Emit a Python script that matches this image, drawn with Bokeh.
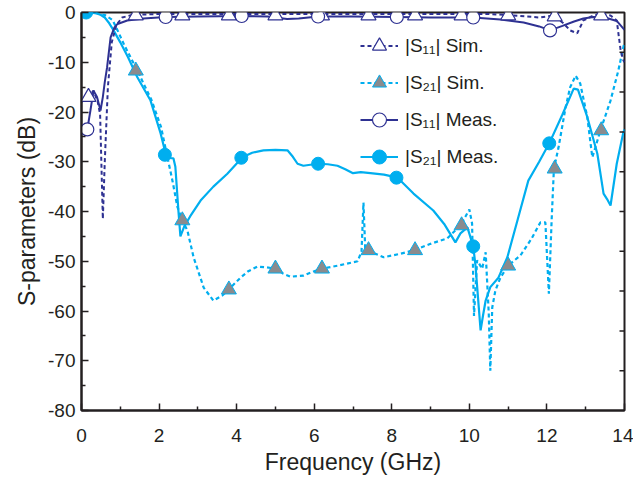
from bokeh.plotting import figure
from bokeh.models import Range1d, FixedTicker, Legend, LegendItem
from bokeh.embed import file_html
from bokeh.resources import INLINE

# ---------------- data ----------------
# |S21| measured (solid cyan)
f21_meas = [0, 0.2, 0.4, 0.5, 0.6, 0.7, 0.82, 1.0, 1.2, 1.44,
            1.78, 2.04, 2.17, 2.3, 2.37, 2.42, 2.5, 2.55, 2.65, 2.8,
            3.07, 3.4, 3.76, 4.15, 4.4, 4.69, 5.0, 5.31, 5.45, 5.57,
            5.72, 5.9, 6.11, 6.35, 6.6, 6.8, 7.0, 7.2, 7.45, 7.8,
            8.15, 8.56, 9.07, 9.35, 9.64, 9.77, 9.95, 10.1, 10.16, 10.22,
            10.29, 10.35, 10.42, 10.54, 10.75, 10.98, 11.25, 11.52, 11.8, 12.06,
            12.4, 12.69, 12.8, 13.04, 13.3, 13.46, 13.55, 13.64, 13.8, 13.97,
            14.0]
s21_meas = [0, 0, -0.2, -0.5, -1, -2, -3.5, -6, -9, -13,
            -17.7, -24.3, -28.4, -29.3, -29.3, -31, -40, -45, -43, -41,
            -37.8, -35, -32.4, -29.1, -28.2, -27.7, -27.6, -27.7, -29, -30.4,
            -30.8, -30.6, -30.4, -30.5, -30.8, -31.5, -32.3, -32.1, -32.3, -32.6,
            -33.2, -36.4, -39.8, -42.5, -46.2, -44.4, -43.2, -47, -51, -57,
            -63.9, -61, -57.9, -55.2, -53.3, -49.2, -41.5, -33.8, -30, -26.3,
            -20.5, -15.3, -15.5, -21, -28.4, -36.4, -37.5, -38.8, -30.4, -24.1,
            -23.5]

# |S21| simulated (dashed cyan)
f21_sim = [0, 0.3, 0.6, 0.8, 0.93, 1.1, 1.44, 1.8, 2.05, 2.2,
           2.35, 2.47, 2.6, 2.73, 2.89, 3.15, 3.4, 3.63, 3.79, 4.1,
           4.3, 4.53, 4.75, 5.0, 5.2, 5.39, 5.72, 6.0, 6.19, 6.6,
           7.12, 7.22, 7.27, 7.32, 7.37, 7.79, 8.22, 8.56, 9.0, 9.43,
           9.77, 9.9, 10.0, 10.07, 10.12, 10.2, 10.33, 10.42, 10.5, 10.54,
           10.59, 10.67, 10.8, 11.0, 11.32, 11.6, 11.83, 11.96, 12.05, 12.12,
           12.18, 12.3, 12.48, 12.6, 12.74, 12.86, 13.04, 13.17, 13.25, 13.38,
           13.64, 13.84, 13.97, 14.0]
s21_sim = [0, 0, -0.5, -1.5, -3.6, -6.5, -11.7, -17.5, -23, -28.5,
           -34, -39, -41.8, -43.8, -49.2, -55.3, -57.9, -56.9, -55.7, -53.3,
           -52, -51.1, -51.2, -51.5, -52.5, -53.1, -52.9, -52, -51.5, -50.9,
           -50.0, -48, -38.2, -48.5, -47.8, -49.2, -48.5, -47.8, -46.5, -45.4,
           -42.8, -41, -39.6, -42.4, -61, -49.8, -51.5, -48.2, -60.5, -72,
           -59.3, -55.9, -53.3, -50.9, -48.8, -45.5, -42.2, -42.2, -56.5, -42,
           -31.4, -27.1, -19.1, -15, -12.7, -14.3, -21, -29.1, -27.1, -23.7,
           -17.7, -11.7, -7, -6]

# |S11| simulated (dashed navy)
f11_sim = [0, 0.18, 0.31, 0.42, 0.48, 0.55, 0.6, 0.68, 0.78, 0.9,
           1.05, 1.3, 2, 3, 4, 5, 6, 7, 8, 9,
           10, 10.5, 11, 11.5, 11.8, 12.17, 12.43, 12.6, 12.78, 12.94,
           13.2, 13.38, 13.64, 13.8, 13.9, 13.97, 14.0]
s11_sim = [-18, -17, -15.7, -18, -20.5, -41.5, -30, -15, -6, -2.5,
           -1, -0.5, -0.3, -0.3, -0.3, -0.3, -0.3, -0.3, -0.3, -0.3,
           -0.3, -0.3, -0.5, -0.8, -1, -0.6, -2.2, -3.6, -4.2, -1.6,
           -0.6, -0.3, -0.6, -1.6, -7.6, -9.6, -10]

# |S11| measured (solid navy)
f11_meas = [0.15, 0.23, 0.31, 0.4, 0.49, 0.55, 0.6, 0.66, 0.75, 0.85,
            0.93, 1.18, 1.6, 2.17, 3.0, 4.13, 4.8, 5.3, 5.6, 6.1,
            7.0, 8.13, 9.0, 10.1, 10.8, 11.4, 11.8, 12.08, 12.4, 12.7,
            12.94, 13.2, 13.5, 13.8, 14.0]
s11_meas = [-23.5, -19.7, -15.7, -17, -19.7, -17, -14, -11, -5, -3,
            -2.3, -1.6, -1.2, -0.9, -0.8, -0.7, -0.8, -1.3, -1.2, -0.8,
            -0.8, -0.9, -1.0, -1.0, -1.4, -2.0, -2.8, -3.6, -2.7, -1.8,
            -1.2, -0.9, -1.0, -1.7, -3.5]

# marker positions
mk11_sim_f = [0.18, 1.4, 2.6, 3.8, 5.0, 6.2, 7.4, 8.6, 9.8, 11.0, 12.2, 13.4]
mk11_sim_v = [-17, -0.6, -0.6, -0.6, -0.6, -0.6, -0.6, -0.6, -0.6, -0.6, -0.8, -0.6]
mk21_sim_f = [1.4, 2.6, 3.8, 5.0, 6.2, 7.4, 8.6, 9.8, 11.0, 12.2, 13.4]
mk21_sim_v = [-11.7, -41.8, -55.7, -51.5, -51.5, -47.8, -47.8, -42.8, -50.9, -31.4, -23.7]
mk11_meas_f = [0.15, 2.17, 4.13, 6.1, 8.13, 10.1, 12.08]
mk11_meas_v = [-23.5, -0.9, -0.7, -0.8, -0.9, -1.0, -3.6]
mk21_meas_f = [0.12, 2.15, 4.12, 6.1, 8.12, 10.1, 12.06]
mk21_meas_v = [0, -28.6, -29.2, -30.4, -33.2, -47, -26.3]

x_start, x_end = 0, 14
y_start, y_end = -80, 0
x_ticks = [0, 2, 4, 6, 8, 10, 12, 14]
x_minor = [1, 3, 5, 7, 9, 11, 13]
y_ticks = [0, -10, -20, -30, -40, -50, -60, -70, -80]
y_tick_labels = ["0", "-10", "-20", "-30", "-40", "-50", "-60", "-70", "-80"]
y_minor = [-5, -15, -25, -35, -45, -55, -65, -75]
right_ticks = [-8, -16, -24, -32, -40, -48, -56, -64, -72]

legend_labels = ["|S\u2081\u2081| Sim.", "|S\u2082\u2081| Sim.",
                 "|S\u2081\u2081| Meas.", "|S\u2082\u2081| Meas."]

# ---------------- styling ----------------
NAVY = "#2e3192"
CYAN = "#00aeef"
GREY = "#8a8b8e"
INK = "#231f20"
FONT = "Liberation Sans"

p = figure(width=633, height=480, output_backend="svg", toolbar_location=None,
           x_range=Range1d(x_start, x_end), y_range=Range1d(y_start, y_end),
           min_border_top=12, min_border_right=9, min_border_left=81, min_border_bottom=70)
p.xgrid.visible = False
p.ygrid.visible = False
p.outline_line_color = INK
p.outline_line_width = 2

# lines
l21s = p.line(f21_sim, s21_sim, line_color=CYAN, line_width=2.2, line_dash="4 3")
l21m = p.line(f21_meas, s21_meas, line_color=CYAN, line_width=2.2)
l11s = p.line(f11_sim, s11_sim, line_color=NAVY, line_width=2, line_dash="4 3")
l11m = p.line(f11_meas, s11_meas, line_color=NAVY, line_width=2)

# markers
m11s = p.scatter(mk11_sim_f, mk11_sim_v, marker="triangle", size=15,
                 fill_color="white", line_color=NAVY, line_width=1.2)
m21s = p.scatter(mk21_sim_f, mk21_sim_v, marker="triangle", size=15,
                 fill_color=GREY, line_color=CYAN, line_width=1)
m11m = p.scatter(mk11_meas_f, mk11_meas_v, marker="circle", size=13,
                 fill_color="white", line_color=NAVY, line_width=1.2)
m21m = p.scatter(mk21_meas_f, mk21_meas_v, marker="circle", size=13,
                 fill_color=CYAN, line_color=CYAN, line_width=1)

# inward ticks on the right frame edge
p.ray(x=[x_end] * len(right_ticks), y=right_ticks, length=5, length_units="screen",
      angle=180, angle_units="deg", line_color=INK, line_width=1.5)

# axes
p.xaxis.ticker = FixedTicker(ticks=x_ticks, minor_ticks=x_minor)
p.yaxis.ticker = FixedTicker(ticks=y_ticks, minor_ticks=y_minor)
p.yaxis.major_label_overrides = {t: s for t, s in zip(y_ticks, y_tick_labels)}
p.xaxis.axis_label = "Frequency (GHz)"
p.yaxis.axis_label = "S-parameters (dB)"
for ax in (p.xaxis[0], p.yaxis[0]):
    ax.axis_line_color = INK
    ax.axis_line_width = 2
    ax.major_tick_in = 7
    ax.major_tick_out = 0
    ax.minor_tick_in = 4
    ax.minor_tick_out = 0
    ax.major_tick_line_color = INK
    ax.minor_tick_line_color = INK
    ax.major_tick_line_width = 1.5
    ax.minor_tick_line_width = 1.5
    ax.major_label_text_font = FONT
    ax.major_label_text_font_size = "19px"
    ax.major_label_text_color = INK
    ax.axis_label_text_font = FONT
    ax.axis_label_text_font_size = "23px"
    ax.axis_label_text_font_style = "normal"
    ax.axis_label_text_color = INK
p.xaxis.major_label_standoff = 18
p.xaxis.axis_label_standoff = 4
p.yaxis.major_label_standoff = 6
p.yaxis.axis_label_standoff = 5

legend = Legend(items=[
    LegendItem(label=legend_labels[0], renderers=[l11s, m11s]),
    LegendItem(label=legend_labels[1], renderers=[l21s, m21s]),
    LegendItem(label=legend_labels[2], renderers=[l11m, m11m]),
    LegendItem(label=legend_labels[3], renderers=[l21m, m21m]),
], location=(279, 236), orientation="vertical",
    glyph_width=38, glyph_height=35, label_height=35, spacing=2,
    padding=0, margin=0, label_standoff=7,
    border_line_color=None, background_fill_alpha=0,
    label_text_font=FONT, label_text_font_size="19px", label_text_color=INK)
p.add_layout(legend, "center")

open("out.html", "w").write(file_html(p, INLINE))
